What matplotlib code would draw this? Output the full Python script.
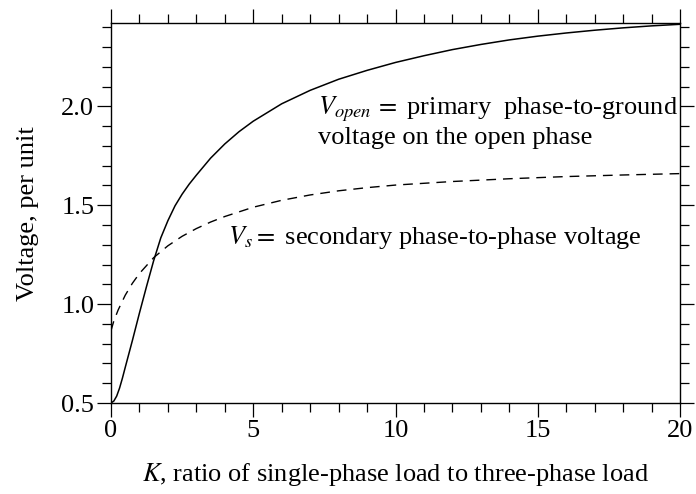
import numpy as np
import matplotlib
matplotlib.use('Agg')
import matplotlib.pyplot as plt
from matplotlib.ticker import MultipleLocator, FormatStrFormatter

plt.rcParams['font.family'] = ['Liberation Serif', 'DejaVu Serif']
plt.rcParams['mathtext.fontset'] = 'stix'

# open-phase voltage, primary phase-to-ground (per unit)
k_open = [0.0, 0.1, 0.2, 0.3, 0.4, 0.5, 0.75, 1.0, 1.25, 1.5, 1.75, 2.0, 2.25, 2.5,
          2.75, 3.0, 3.5, 4.0, 4.5, 5.0, 6.0, 7.0, 8.0, 9.0, 10.0, 11.0, 12.0,
          13.0, 14.0, 15.0, 16.0, 17.0, 18.0, 19.0, 20.0]
v_open = [0.5, 0.51, 0.535, 0.575, 0.625, 0.68, 0.815, 0.955, 1.09, 1.22, 1.335,
          1.422, 1.497, 1.556, 1.607, 1.652, 1.738, 1.81, 1.872, 1.925, 2.013,
          2.081, 2.137, 2.182, 2.222, 2.256, 2.287, 2.313, 2.336, 2.355, 2.371,
          2.385, 2.397, 2.407, 2.415]

# secondary phase-to-phase voltage (per unit)
k_s = [0.0, 0.1, 0.25, 0.5, 0.75, 1.0, 1.5, 2.0, 2.5, 3.0, 3.5, 4.0, 5.0, 6.0, 7.0,
       8.0, 9.0, 10.0, 12.0, 14.0, 16.0, 18.0, 20.0]
v_s = [0.866, 0.915, 0.97, 1.045, 1.105, 1.155, 1.235, 1.295, 1.343, 1.382, 1.415,
       1.443, 1.49, 1.525, 1.552, 1.573, 1.589, 1.602, 1.62, 1.634, 1.645, 1.653,
       1.66]

fig = plt.figure(figsize=(6.96, 4.94), dpi=100)
ax = fig.add_axes([111/696, 1-403/494, (680-111)/696, (403-23.3)/494])

ax.plot(k_open, v_open, 'k-', lw=1.1)
ax.plot(k_s, v_s, 'k', lw=1.0, dashes=(7, 5))

ax.set_xlim(0, 20)
ax.set_ylim(0.5, 2.42)
ax.xaxis.set_major_locator(MultipleLocator(5))
ax.xaxis.set_minor_locator(MultipleLocator(1))
ax.yaxis.set_major_locator(MultipleLocator(0.5))
ax.yaxis.set_minor_locator(MultipleLocator(0.1))
ax.yaxis.set_major_formatter(FormatStrFormatter('%.1f'))
ax.tick_params(which='both', direction='out', top=True, right=True,
               labelsize=19, width=0.9, pad=2)
ax.tick_params(which='major', length=10)
ax.tick_params(which='minor', length=6.5)
for s in ax.spines.values():
    s.set_linewidth(1.0)

ax.set_xlabel('$K$, ratio of single-phase load to three-phase load', fontsize=19, labelpad=14)
ax.set_ylabel('Voltage, per unit', fontsize=19, labelpad=16)

# va='baseline' on a two-line label anchors the lower line
ax.text(7.28, 1.81, '$V_{open}\\,=$ primary  phase-to-ground\nvoltage on the open phase',
        fontsize=19, va='baseline', linespacing=1.2)
ax.text(4.11, 1.305, '$V_s =$ secondary phase-to-phase voltage', fontsize=19, va='baseline')

fig.savefig('out.png', dpi=100)
